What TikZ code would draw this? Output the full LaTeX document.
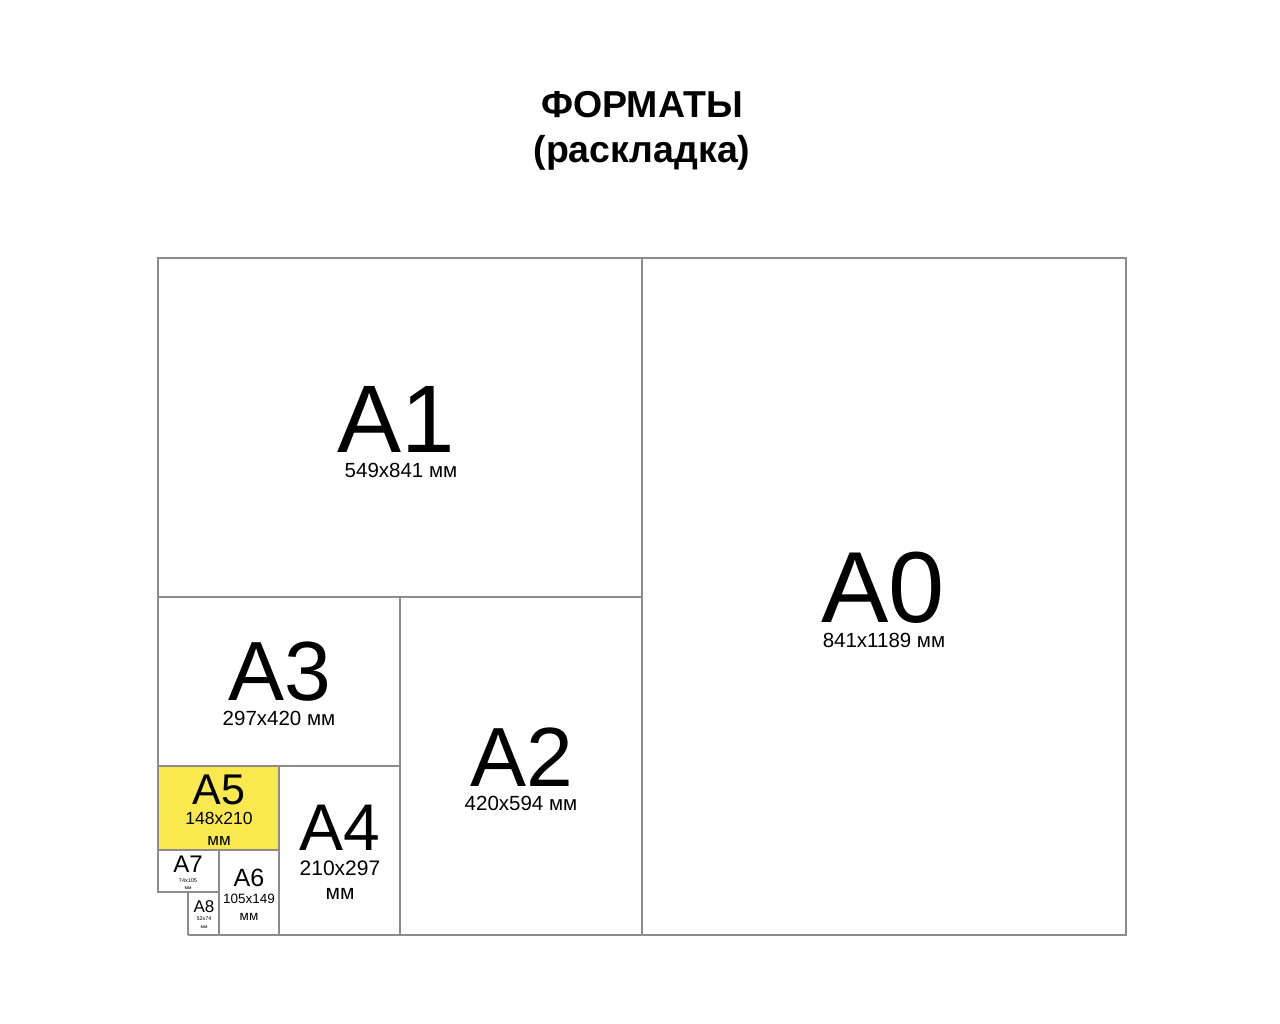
\documentclass[tikz,border=0pt]{standalone}
\usepackage{fontspec}
\setmainfont{Liberation Sans}
\definecolor{edge}{RGB}{140,140,140}
\definecolor{a5yellow}{RGB}{249,232,78}
\newcommand{\fsz}[1]{\fontsize{#1}{#1}\selectfont}
\begin{document}
\begin{tikzpicture}[x=1pt,y=-1pt,
  sheet/.style={draw=edge,line width=1.5pt},
  lbl/.style={anchor=base,inner sep=0pt,text=black},
]
\useasboundingbox (0,0) rectangle (1280,1024);
\fill[white] (0,0) rectangle (1280,1024);
% yellow A5
\fill[a5yellow] (158,766) rectangle (279,850);
% outline
\draw[sheet,line join=miter] (188,935) -- (1126,935) -- (1126,258) -- (158,258) -- (158,892) -- (219,892);
% inner divisions
\draw[sheet] (642,258) -- (642,935);
\draw[sheet] (158,597) -- (642,597);
\draw[sheet] (400,597) -- (400,935);
\draw[sheet] (158,766) -- (400,766);
\draw[sheet] (279,766) -- (279,935);
\draw[sheet] (158,850) -- (279,850);
\draw[sheet] (219,850) -- (219,935);
\draw[sheet] (188,892) -- (188,935);
% title
\node[lbl,font=\bfseries\fsz{37.5}] (t1) at (642,118) {ФОРМАТЫ};
\node[lbl,font=\bfseries\fsz{37.5}] (t2) at (642,163) {(раскладка)};
% A0
\node[lbl,font=\fsz{101}] (a0) at (883,622) {A0};
\node[lbl,font=\fsz{20.5}] (a0s) at (884,647) {841x1189 мм};
% A1
\node[lbl,font=\fsz{96}] (a1) at (396,452) {A1};
\node[lbl,font=\fsz{20.5}] (a1s) at (401,477) {549x841 мм};
% A2
\node[lbl,font=\fsz{84}] (a2) at (522,786) {A2};
\node[lbl,font=\fsz{20.5}] (a2s) at (521,810) {420x594 мм};
% A3
\node[lbl,font=\fsz{84}] (a3) at (280,700) {A3};
\node[lbl,font=\fsz{20.5}] (a3s) at (279,725) {297x420 мм};
% A4
\node[lbl,font=\fsz{66}] (a4) at (340,850) {A4};
\node[lbl,font=\fsz{21}] (a4s) at (340,875) {210x297};
\node[lbl,font=\fsz{21}] (a4m) at (340,899) {мм};
% A5
\node[lbl,font=\fsz{43}] (a5) at (219,804) {A5};
\node[lbl,font=\fsz{17.5}] (a5s) at (219,824) {148x210};
\node[lbl,font=\fsz{17}] (a5m) at (219,845) {мм};
% A6
\node[lbl,font=\fsz{25}] (a6) at (249,886) {A6};
\node[lbl,font=\fsz{13.5}] (a6s) at (249,903) {105x149};
\node[lbl,font=\fsz{13.5}] (a6m) at (249,920) {мм};
% A7
\node[lbl,font=\fsz{24}] (a7) at (188,872) {A7};
\node[lbl,font=\fsz{5.5}] (a7s) at (188,882) {74x105};
\node[lbl,font=\fsz{5}] (a7m) at (188,889) {мм};
% A8
\node[lbl,font=\fsz{17}] (a8) at (204,912) {A8};
\node[lbl,font=\fsz{5.5}] (a8s) at (204,920) {52x74};
\node[lbl,font=\fsz{5}] (a8m) at (204,928) {мм};
\end{tikzpicture}
\end{document}
